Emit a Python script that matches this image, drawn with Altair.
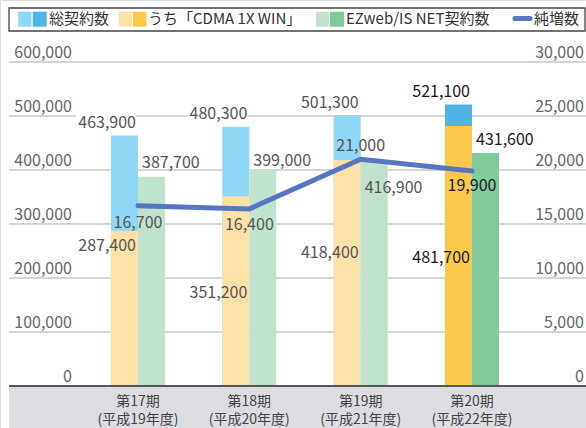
import altair as alt
import pandas as pd

# ---- data ----
periods = ["第17期", "第18期", "第19期", "第20期"]
fiscal = ["(平成19年度)", "(平成20年度)", "(平成21年度)", "(平成22年度)"]
total = [463900, 480300, 501300, 521100]
cdma = [287400, 351200, 418400, 481700]
ezweb = [387700, 399000, 416900, 431600]
net_add = [16700, 16400, 21000, 19900]
left_ticks = [0, 100000, 200000, 300000, 400000, 500000, 600000]
right_ticks = [0, 5000, 10000, 15000, 20000, 25000, 30000]

# label vertical offsets in pixels (layout only)
cdma_dy = [15, 97, 93, 132]
ezweb_dy = [-14, -10, 27, -13]
net_dy = [17, 16, -13, 15]

PLOT_H = 324.0  # pixel height of the value range
FONT = "Noto Sans CJK JP"
LIGHT = {"blue": "#8fd7f6", "yellow": "#fee1a6", "green": "#c1e3cd"}
DARK = {"blue": "#4fb5e7", "yellow": "#fec94b", "green": "#80cb9b"}
LINE = "#5577c1"

df = pd.DataFrame({
    "period": periods, "fiscal": fiscal, "total": total, "cdma": cdma,
    "ezweb": ezweb, "net": net_add, "cdma_dy": cdma_dy, "ezweb_dy": ezweb_dy,
    "net_dy": net_dy,
})

X = alt.X("period:N", sort=periods,
          scale=alt.Scale(domain=periods, range=[82.33, 527.67],
                          paddingInner=0, paddingOuter=0), axis=None)
YL = alt.Scale(domain=[0, 600000], range=[386, 62], nice=False, zero=True)
YR = alt.Scale(domain=[0, 30000], range=[386, 62], nice=False, zero=True)

is20 = alt.datum.period == "第20期"

def col(key):
    return alt.condition(is20, alt.value(DARK[key]), alt.value(LIGHT[key]))

lab_col = alt.condition(is20, alt.value("#1a1a1a"), alt.value("#555555"))

base = alt.Chart(df)
one = alt.Chart(pd.DataFrame({"a": [0]}))

# gray band at bottom
band = one.mark_rect(color="#dcdde0").encode(
    x=alt.value(9), x2=alt.value(586), y=alt.value(386), y2=alt.value(428))

lt = pd.DataFrame({"v": left_ticks})
rt = pd.DataFrame({"v": right_ticks})

grid = alt.Chart(lt).transform_filter(alt.datum.v > 0).mark_rule(
    color="#c9c9c9", strokeWidth=1.6).encode(
    y=alt.Y("v:Q", scale=YL, axis=None), x=alt.value(9), x2=alt.value(586))

baseline = alt.Chart(lt).transform_filter(alt.datum.v == 0).mark_rule(
    color="#555555", strokeWidth=2).encode(
    y=alt.Y("v:Q", scale=YL, axis=None), x=alt.value(9), x2=alt.value(586))

left_labels = alt.Chart(lt).mark_text(
    align="right", baseline="middle", yOffset=-9.5, fontSize=16,
    color="#666666", font=FONT).encode(
    y=alt.Y("v:Q", scale=YL, axis=None), x=alt.value(72),
    text=alt.Text("v:Q", format=","))

right_labels = alt.Chart(rt).mark_text(
    align="right", baseline="middle", yOffset=-9.5, fontSize=16,
    color="#666666", font=FONT).encode(
    y=alt.Y("v:Q", scale=YR, axis=None), x=alt.value(584),
    text=alt.Text("v:Q", format=","))

# white backgrounds behind total labels
label_bg = base.mark_bar(color="white", width=60, xOffset=-32,
                         yOffset=-5, y2Offset=-21).encode(
    x=X, y=alt.Y("total:Q", scale=YL, axis=None), y2="total:Q")

bar_total = base.mark_bar(width=27, xOffset=-13.5).encode(
    x=X, y=alt.Y("total:Q", scale=YL, axis=None), color=col("blue"))
bar_cdma = base.mark_bar(width=27, xOffset=-13.5).encode(
    x=X, y=alt.Y("cdma:Q", scale=YL, axis=None), color=col("yellow"))
bar_ez = base.mark_bar(width=27, xOffset=13.5).encode(
    x=X, y=alt.Y("ezweb:Q", scale=YL, axis=None), color=col("green"))

line = base.mark_line(color=LINE, strokeWidth=5, strokeCap="round").encode(
    x=X, y=alt.Y("net:Q", scale=YR, axis=None))

tkw = dict(fontSize=16, font=FONT, baseline="middle")
t_total = base.mark_text(align="right", xOffset=-2, yOffset=-12.5, **tkw).encode(
    x=X, y=alt.Y("total:Q", scale=YL, axis=None),
    text=alt.Text("total:Q", format=","), color=lab_col)

t_cdma = base.transform_calculate(
    pos=f"datum.cdma - datum.cdma_dy * {600000 / PLOT_H}"
).mark_text(align="right", xOffset=-2, **tkw).encode(
    x=X, y=alt.Y("pos:Q", scale=YL, axis=None),
    text=alt.Text("cdma:Q", format=","), color=lab_col)

t_ez = base.transform_calculate(
    pos=f"datum.ezweb - datum.ezweb_dy * {600000 / PLOT_H}"
).mark_text(align="left", xOffset=4, **tkw).encode(
    x=X, y=alt.Y("pos:Q", scale=YL, axis=None),
    text=alt.Text("ezweb:Q", format=","), color=lab_col)

t_net = base.transform_calculate(
    pos=f"datum.net - datum.net_dy * {30000 / PLOT_H}"
).mark_text(align="center", **tkw).encode(
    x=X, y=alt.Y("pos:Q", scale=YR, axis=None),
    text=alt.Text("net:Q", format=","), color=lab_col)

cat1 = base.mark_text(fontSize=14, font=FONT, color="#444444",
                      baseline="middle").encode(
    x=X, y=alt.value(402), text="period:N")
cat2 = base.mark_text(fontSize=14, font=FONT, color="#444444",
                      baseline="middle").encode(
    x=X, y=alt.value(419.5), text="fiscal:N")

# ---- legend ----
def sq(x0, x1, c):
    return one.mark_rect(color=c).encode(
        x=alt.value(x0), x2=alt.value(x1), y=alt.value(11.7), y2=alt.value(26.7))

def lt_text(x0, s):
    return one.mark_text(align="left", baseline="middle", fontSize=15,
                         font=FONT, color="#333333").encode(
        x=alt.value(x0), y=alt.value(19), text=alt.value(s))

legend_box = one.mark_rect(fill="white", stroke="#444444", strokeWidth=1.3).encode(
    x=alt.value(9), x2=alt.value(585), y=alt.value(8), y2=alt.value(31))
legend = [
    legend_box,
    sq(18.3, 31.5, LIGHT["blue"]), sq(32.7, 46.7, DARK["blue"]), lt_text(49, "総契約数"),
    sq(119, 132, LIGHT["yellow"]), sq(133, 146.5, DARK["yellow"]), lt_text(148, "うち「CDMA 1X WIN」"),
    sq(316, 329, LIGHT["green"]), sq(330, 344, DARK["green"]), lt_text(346, "EZweb/IS NET契約数"),
    one.mark_rule(color=LINE, strokeWidth=5, strokeCap="round").encode(
        x=alt.value(515), x2=alt.value(530), y=alt.value(18.5)),
    lt_text(534, "純増数"),
]

chart = alt.layer(
    band, grid, label_bg, bar_total, bar_cdma, bar_ez, baseline, line,
    left_labels, right_labels, t_total, t_cdma, t_ez, t_net, cat1, cat2,
    *legend,
).resolve_scale(y="independent").properties(
    width=586, height=428, autosize=alt.AutoSizeParams(type="none"),
    padding=0,
).configure_view(stroke=None).configure(background="white")

chart.save("out.html", embed_options={"renderer": "svg", "actions": False})
